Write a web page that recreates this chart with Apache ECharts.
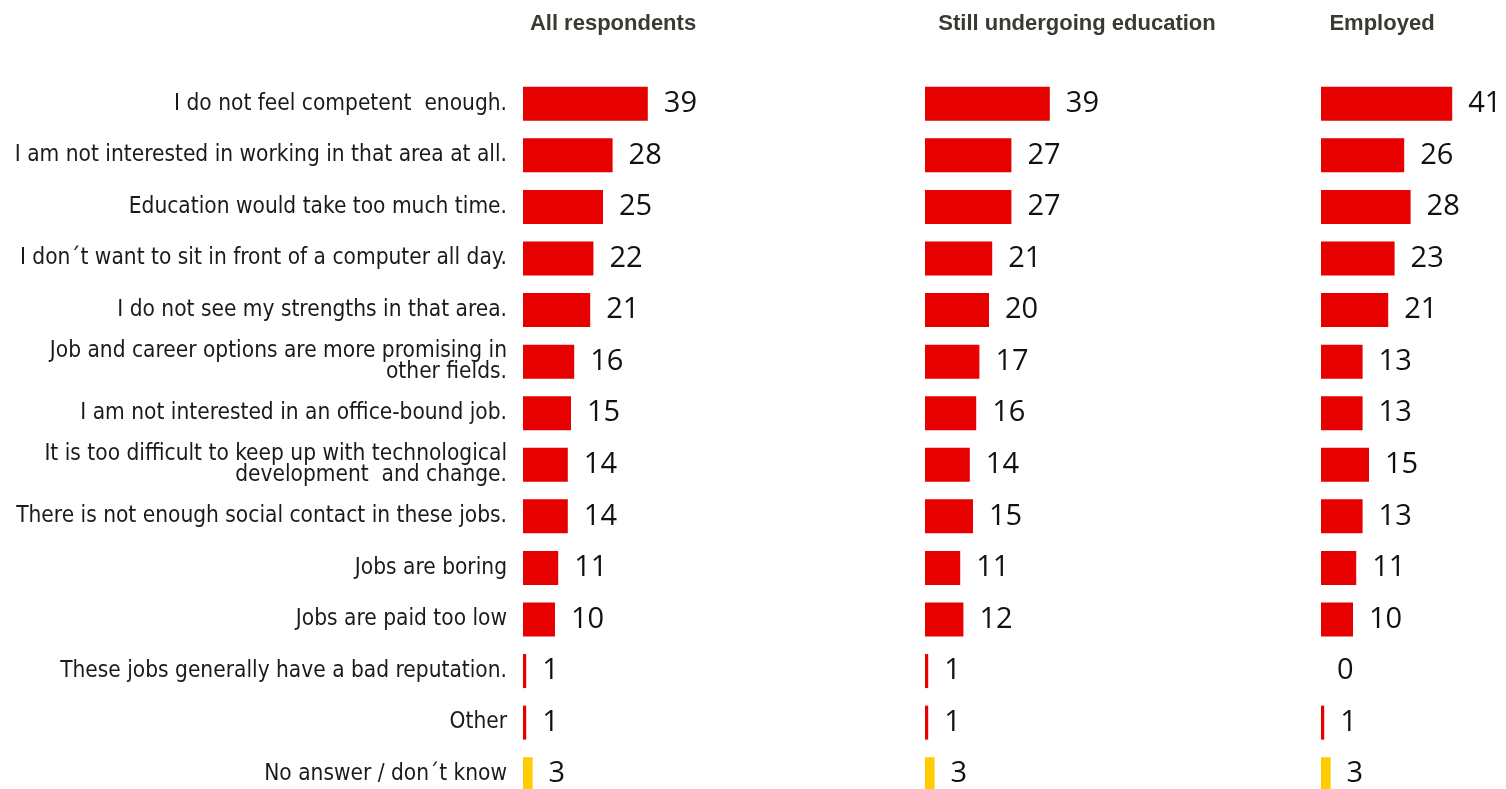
<!DOCTYPE html>
<html>
<head>
<meta charset="utf-8">
<script src="https://cdn.jsdelivr.net/npm/echarts@6/dist/echarts.min.js"></script>
<style>
html,body{margin:0;padding:0;background:#fff;}
#chart{width:1506px;height:789px;}
</style>
</head>
<body>
<div id="chart"></div>
<script>
const categories = [
  "I do not feel competent  enough.",
  "I am not interested in working in that area at all.",
  "Education would take too much time.",
  "I don\u00b4t want to sit in front of a computer all day.",
  "I do not see my strengths in that area.",
  "Job and career options are more promising in\nother fields.",
  "I am not interested in an office-bound job.",
  "It is too difficult to keep up with technological\ndevelopment  and change.",
  "There is not enough social contact in these jobs.",
  "Jobs are boring",
  "Jobs are paid too low",
  "These jobs generally have a bad reputation.",
  "Other",
  "No answer / don\u00b4t know"
];
const panelTitles = ["All respondents", "Still undergoing education", "Employed"];
const allRespondents = [39, 28, 25, 22, 21, 16, 15, 14, 14, 11, 10, 1, 1, 3];
const stillInEducation = [39, 27, 27, 21, 20, 17, 16, 14, 15, 11, 12, 1, 1, 3];
const employed = [41, 26, 28, 23, 21, 13, 13, 15, 13, 11, 10, 0, 1, 3];

const seriesData = [allRespondents, stillInEducation, employed];
const RED = "#E60000", YELLOW = "#FFCC00";
const gridLefts = [523, 925, 1321];
const titleCenters = [608, 1072, 1377];
const XMAX = 50, GRID_W = 160;

const chart = echarts.init(document.getElementById('chart'), null, {renderer: 'canvas'});
const labelFont = "'DejaVu Sans Condensed','Liberation Sans',sans-serif";

const option = {
  animation: false,
  backgroundColor: '#fff',
  title: panelTitles.map((t, i) => ({
    text: t,
    left: titleCenters[i],
    top: 8,
    textAlign: 'center',
    textStyle: {fontFamily: "'Liberation Sans',sans-serif", fontWeight: 'bold', fontSize: 22, color: '#3a3a32'}
  })),
  grid: gridLefts.map(l => ({left: l, top: 78, width: GRID_W, height: 722, outerBoundsMode: 'none', containLabel: false})),
  xAxis: gridLefts.map((l, i) => ({
    type: 'value', gridIndex: i, min: 0, max: XMAX, show: false
  })),
  yAxis: gridLefts.map((l, i) => ({
    type: 'category', gridIndex: i, data: categories, inverse: true,
    axisLine: {show: false}, axisTick: {show: false}, splitLine: {show: false},
    axisLabel: {
      show: i === 0, margin: 16, fontFamily: labelFont, fontSize: 22.5, color: '#1a1a1a',
      lineHeight: 21, align: 'right'
    }
  })),
  series: seriesData.map((d, i) => ({
    type: 'bar', xAxisIndex: i, yAxisIndex: i, data: d,
    barWidth: 34,
    itemStyle: {color: p => p.dataIndex === categories.length - 1 ? YELLOW : RED},
    label: {
      show: true, position: 'right', distance: 16,
      fontFamily: "'Open Sans','Noto Sans',sans-serif", fontSize: 29, color: '#111'
    }
  }))
};
chart.setOption(option);
</script>
</body>
</html>
